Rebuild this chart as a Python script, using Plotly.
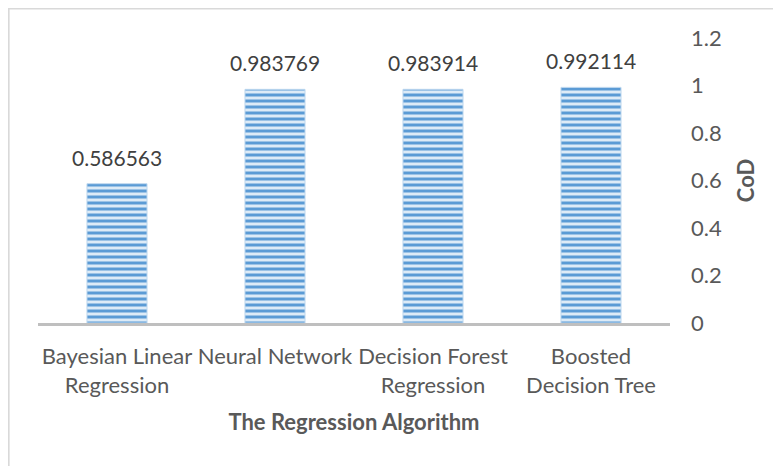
import plotly.graph_objects as go

categories = ["Bayesian Linear<br>Regression", "Neural Network", "Decision Forest<br>Regression", "Boosted<br>Decision Tree"]
values = [0.586563, 0.983769, 0.983914, 0.992114]
labels = ["0.586563", "0.983769", "0.983914", "0.992114"]
y_ticks = [0, 0.2, 0.4, 0.6, 0.8, 1, 1.2]

FONT = "Lato"
GREY = "#595959"

fig = go.Figure()
fig.add_trace(go.Bar(
    x=categories, y=values, width=0.38,
    marker=dict(
        color="#DDEBF7",
        line=dict(color="#BDD7EE", width=1),
        pattern=dict(shape="-", fgcolor="#5B9BD5", bgcolor="#DDEBF7", size=6, solidity=0.5, fgopacity=1),
    ),
    showlegend=False, hoverinfo="skip",
))

for c, v, t in zip(categories, values, labels):
    fig.add_annotation(x=c, y=v, text=t, showarrow=False, yanchor="bottom", yshift=12,
                       font=dict(family=FONT, size=21, color="#404040"))

# page body has an 8px margin, so the figure is placed at (8, 8)
W, H = 773, 458
L, T = 30, 30
pw, ph = 632, 285
R, B = W - L - pw, H - T - ph
bx = -L / pw
by = 1 + T / ph
fig.add_shape(type="line", xref="paper", yref="paper", x0=bx + 0.001, x1=bx + 0.001, y0=-1, y1=by,
              line=dict(color="#D9D9D9", width=2))
fig.add_shape(type="line", xref="paper", yref="paper", x0=bx, x1=2, y0=by - 0.002, y1=by - 0.002,
              line=dict(color="#D9D9D9", width=2))

fig.update_layout(
    width=W, height=H,
    margin=dict(l=L, r=R, t=T, b=B, autoexpand=False),
    paper_bgcolor="white", plot_bgcolor="white",
    font=dict(family=FONT, color=GREY),
    xaxis=dict(
        automargin=False,
        showline=True, linecolor="#BFBFBF", linewidth=3, showgrid=False, zeroline=False,
        ticks="", tickfont=dict(family=FONT, size=22, color=GREY), ticklabelstandoff=12,
        title=dict(text="<b>The Regression Algorithm</b>", font=dict(family=FONT, size=22, color=GREY), standoff=18),
    ),
    yaxis=dict(
        automargin=False,
        side="right", range=[0, 1.2], tickvals=y_ticks, ticktext=[str(v) for v in y_ticks],
        showgrid=False, zeroline=False, showline=False, ticks="",
        tickfont=dict(family=FONT, size=22, color=GREY), ticklabelstandoff=20,
        title=dict(text="<b>CoD</b>", font=dict(family=FONT, size=22, color=GREY), standoff=17),
    ),
)

fig.write_html("out.html")
